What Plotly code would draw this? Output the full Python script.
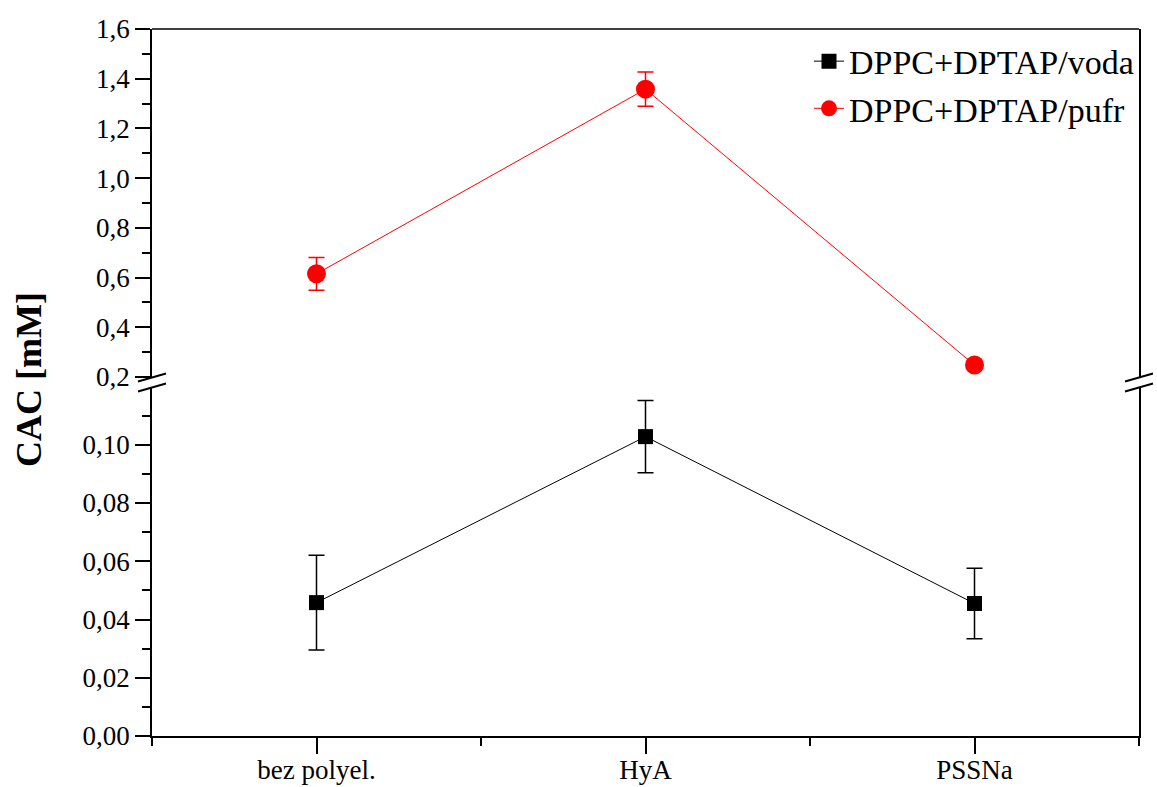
import plotly.graph_objects as go

# ---- data ----
categories = ["bez polyel.", "HyA", "PSSNa"]
voda = [0.0458, 0.1028, 0.0455]
voda_err = [0.0163, 0.0124, 0.0121]
pufr = [0.615, 1.358, 0.248]
pufr_err = [0.066, 0.069, 0.008]
lower_ticks = [0.00, 0.02, 0.04, 0.06, 0.08, 0.10]
upper_ticks = [0.2, 0.4, 0.6, 0.8, 1.0, 1.2, 1.4, 1.6]

xpos = list(range(1, len(categories) + 1))

W, H = 1157, 787
# target plot-area pixel edges in the window
L_px, R_px, T_px, B_px = 152, 1139, 29, 736
ml, mr, mt, mb = L_px, W - R_px, T_px, H - B_px
ph = B_px - T_px
pw = R_px - L_px
y_up_bottom = 377   # px of upper domain bottom
y_lo_top = 388      # px of lower domain top
up_dom = [(B_px - y_up_bottom) / ph, 1.0]
lo_dom = [0.0, (B_px - y_lo_top) / ph]

font_family = "Liberation Serif"

fig = go.Figure()
fig.add_trace(go.Scatter(
    x=xpos, y=voda, name="DPPC+DPTAP/voda", mode="lines+markers",
    line=dict(color="black", width=1),
    marker=dict(symbol="square", size=15, color="black"),
    error_y=dict(type="data", array=voda_err, color="black", thickness=1.5, width=8),
    xaxis="x", yaxis="y",
))
fig.add_trace(go.Scatter(
    x=xpos, y=pufr, name="DPPC+DPTAP/pufr", mode="lines+markers",
    line=dict(color="#ff0000", width=1),
    marker=dict(symbol="circle", size=19, color="#ff0000"),
    error_y=dict(type="data", array=pufr_err, color="#ff0000", thickness=1.5, width=8),
    xaxis="x", yaxis="y2",
))

axis_common = dict(showline=True, linecolor="black", linewidth=1.5, ticks="outside",
                   tickcolor="black", tickwidth=1.5, showgrid=False, zeroline=False,
                   automargin=False,
                   tickfont=dict(family=font_family, size=27, color="black"))

fig.update_layout(
    template="none",
    width=W, height=H,
    margin=dict(l=ml, r=mr, t=mt, b=mb, autoexpand=False),
    plot_bgcolor="white", paper_bgcolor="white",
    separators=", ",
    font=dict(family=font_family, color="black"),
    xaxis=dict(**{**axis_common, "tickfont": dict(family=font_family, size=27, color="black")},
               range=[0.5, 3.5], tickvals=xpos, ticktext=categories, ticklen=16,
               ticklabelstandoff=-7,
               anchor="y",
               minor=dict(tickvals=[0.5, 1.5, 2.5, 3.5], ticks="outside", ticklen=8,
                          tickcolor="black", tickwidth=1.5)),
    yaxis=dict(**axis_common, domain=lo_dom, range=[0, 0.1195], tickvals=lower_ticks,
               tickformat=".2f", ticklen=15, mirror=True, anchor="x",
               minor=dict(tickvals=[0.01, 0.03, 0.05, 0.07, 0.09, 0.11], ticks="outside",
                          ticklen=8, tickcolor="black", tickwidth=1.5)),
    yaxis2=dict(**axis_common, domain=up_dom, range=[0.2, 1.6], tickvals=upper_ticks,
                tickformat=".1f", ticklen=15, mirror=True, anchor="x",
                minor=dict(tickvals=[0.3, 0.5, 0.7, 0.9, 1.1, 1.3, 1.5], ticks="outside",
                           ticklen=8, tickcolor="black", tickwidth=1.5)),
    legend=dict(x=1.0, xanchor="right", y=0.995, yanchor="top",
                bgcolor="rgba(0,0,0,0)", borderwidth=0,
                font=dict(family=font_family, size=34, color="black"),
                tracegroupgap=0),
    showlegend=True,
)

# top border line
fig.add_shape(type="line", xref="paper", yref="paper", x0=0, x1=1, y0=1, y1=1,
              line=dict(color="black", width=1.5))

def px2x(px):
    return (px - L_px) / pw
def py2y(py):
    return (B_px - py) / ph

# axis break marks
for xc in (L_px, R_px):
    for yc in (y_up_bottom + 0.5, y_lo_top - 0.5):
        fig.add_shape(type="line", xref="paper", yref="paper",
                      x0=px2x(xc - 14), y0=py2y(yc + 4), x1=px2x(xc + 14), y1=py2y(yc - 4),
                      line=dict(color="black", width=2))

fig.add_annotation(text="<b>CAC [mM]</b>", xref="paper", yref="paper",
                   x=px2x(29), y=py2y(380), textangle=-90, showarrow=False,
                   xanchor="center", yanchor="middle",
                   font=dict(family=font_family, size=36, color="black"))

# remove the default browser body margin so the figure fills the window exactly
fig.write_html("out.html",
               config={"displayModeBar": False},
               post_script="document.body.style.margin='0';document.body.style.overflow='hidden';")
